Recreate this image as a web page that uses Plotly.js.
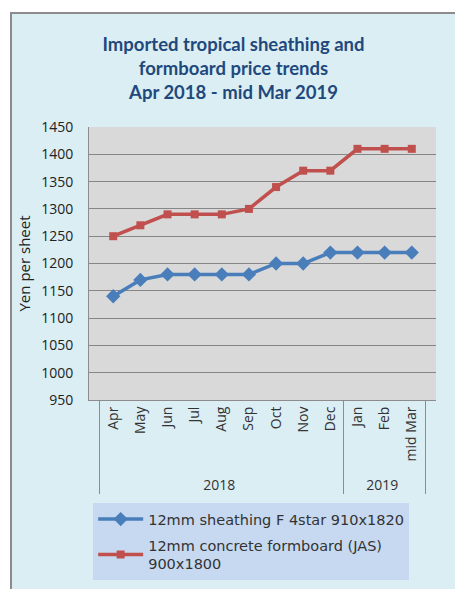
<!DOCTYPE html>
<html>
<head>
<meta charset="utf-8">
<script src="https://cdn.plot.ly/plotly-3.0.1.min.js"></script>
<style>
  html, body { margin: 0; padding: 0; background: #ffffff; }
  #chart {
    position: absolute;
    left: 10px;
    top: 12px;
    width: 445px;
    height: 577px;
    border-left: 2px solid #8c8c8c;
    border-top: 2px solid #8c8c8c;
    box-sizing: border-box;
  }
</style>
</head>
<body>
<div id="chart"></div>
<script>
// Data
const years = ['2018', '2018', '2018', '2018', '2018', '2018', '2018', '2018', '2018', '2019', '2019', '2019'];
const months = ['Apr', 'May', 'Jun', 'Jul', 'Aug', 'Sep', 'Oct', 'Nov', 'Dec', 'Jan', 'Feb', 'mid Mar'];
const sheathing = [1140, 1170, 1180, 1180, 1180, 1180, 1200, 1200, 1220, 1220, 1220, 1220];
const formboard = [1250, 1270, 1290, 1290, 1290, 1300, 1340, 1370, 1370, 1410, 1410, 1410];

const sheathingName = '12mm sheathing F 4star 910x1820';
const formboardName = '12mm concrete formboard (JAS)<br>900x1800';

const traces = [
  {
    x: [years, months],
    y: sheathing,
    name: sheathingName,
    legendgroup: 'a',
    type: 'scatter',
    mode: 'lines+markers',
    line: { color: '#4a7ebb', width: 3.5 },
    marker: { symbol: 'diamond', size: 11, color: '#4a7ebb' }
  },
  {
    x: [years, months],
    y: formboard,
    name: formboardName,
    legendgroup: 'b',
    type: 'scatter',
    mode: 'lines+markers',
    line: { color: '#c0504d', width: 3.5 },
    marker: { symbol: 'square', size: 8, color: '#c0504d' }
  }
];

const layout = {
  width: 443,
  height: 575,
  margin: { l: 77, r: 19, t: 113, b: 189, autoexpand: false },
  paper_bgcolor: '#dbeef4',
  plot_bgcolor: '#d9d9d9',
  title: {
    text: 'Imported tropical sheathing and<br>formboard price trends<br>Apr 2018 - mid Mar 2019',
    x: 0.5,
    xref: 'container',
    y: 0.935,
    yref: 'container',
    yanchor: 'top',
    font: { family: 'Lato, "Open Sans", sans-serif', size: 18.5, color: '#1f497d', weight: 'bold' }
  },
  xaxis: {
    type: 'multicategory',
    automargin: false,
    tickangle: -90,
    tickfont: { family: '"Open Sans", sans-serif', size: 14, color: '#333333' },
    showdividers: true,
    dividercolor: '#8c8c8c',
    dividerwidth: 1,
    showline: true,
    linecolor: '#8c8c8c',
    linewidth: 1,
    ticks: '',
    showgrid: false
  },
  yaxis: {
    automargin: false,
    range: [950, 1450],
    dtick: 50,
    tickfont: { family: '"Open Sans", sans-serif', size: 14, color: '#222222' },
    ticklabelstandoff: 12,
    showgrid: true,
    gridcolor: '#868686',
    gridwidth: 1,
    showline: true,
    linecolor: '#8c8c8c',
    linewidth: 1,
    ticks: '',
    zeroline: false,
    title: {
      text: 'Yen per sheet',
      font: { family: '"Open Sans", sans-serif', size: 15, color: '#222222' },
      standoff: 6
    }
  },
  legend: {
    x: 0.012,
    xanchor: 'left',
    y: -0.378,
    yanchor: 'top',
    bgcolor: '#c6d9f1',
    itemwidth: 45,
    traceorder: 'grouped',
    tracegroupgap: 4,
    font: { family: '"DejaVu Sans", sans-serif', size: 14.5, color: '#333333' }
  },
  showlegend: true
};

Plotly.newPlot('chart', traces, layout, { displayModeBar: false, staticPlot: true });
</script>
</body>
</html>
